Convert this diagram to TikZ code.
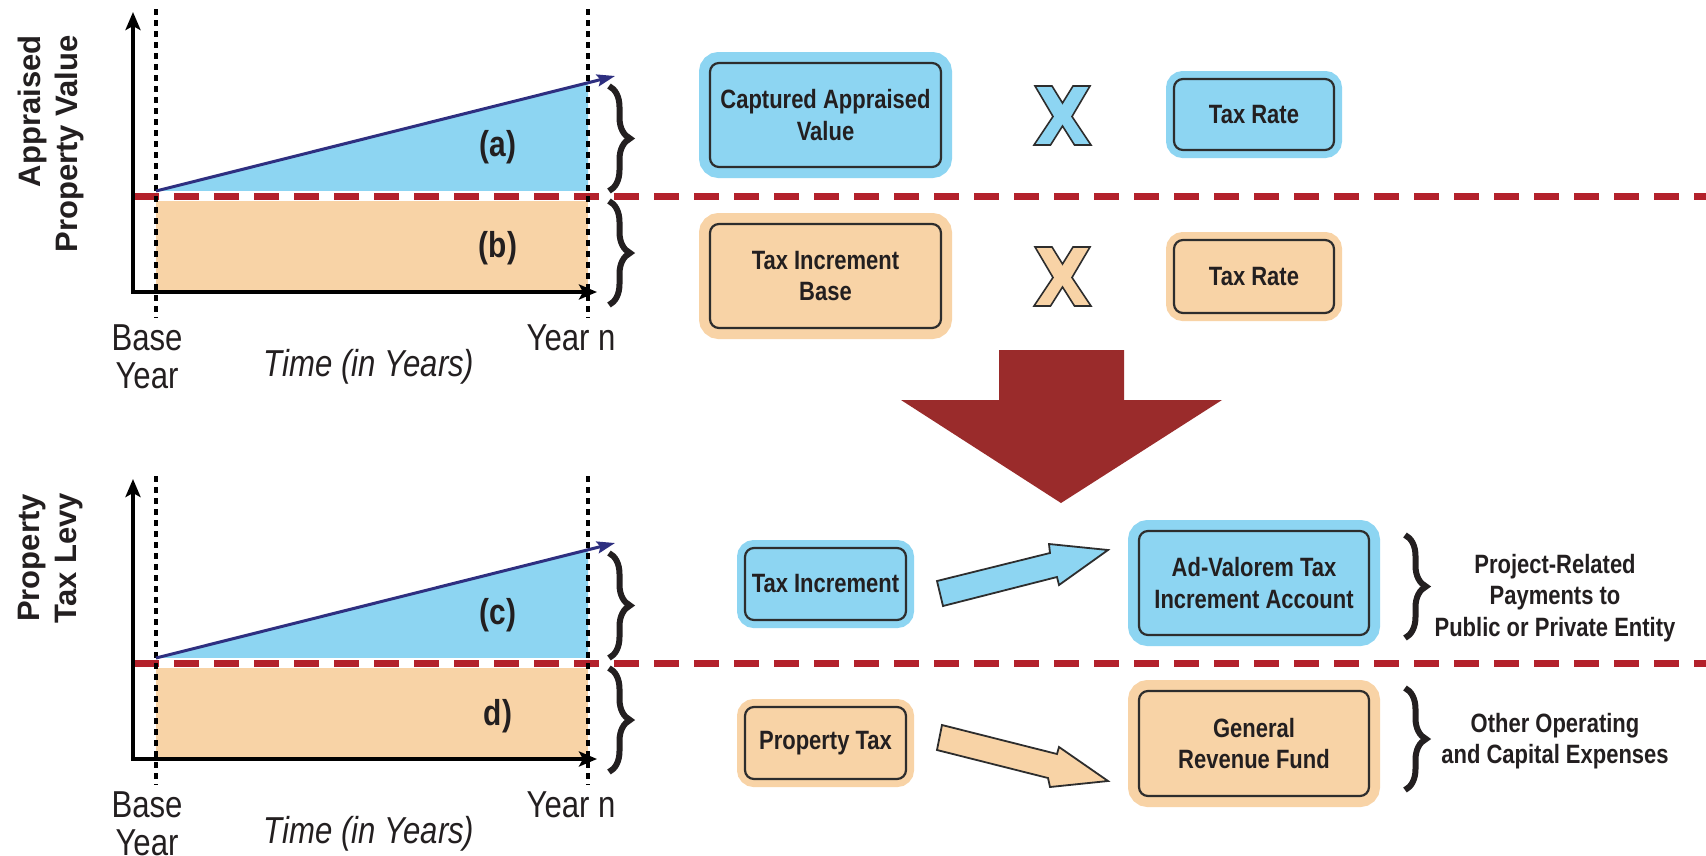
\documentclass[tikz,border=0pt]{standalone}
\usepackage{fontspec}
\setmainfont{Liberation Sans}
\newfontfamily\condf[FakeStretch=0.83]{Liberation Sans}
\usetikzlibrary{arrows.meta,decorations.pathreplacing}
\definecolor{lblue}{HTML}{8DD5F2}
\definecolor{lorange}{HTML}{F8D3A6}
\definecolor{bigred}{HTML}{9A2B2B}
\definecolor{dashred}{HTML}{B3212B}
\definecolor{navy}{HTML}{2E2F80}
\definecolor{boxline}{HTML}{2D2D2D}
\definecolor{ink}{HTML}{231F20}
\begin{document}
\begin{tikzpicture}[x=1pt,y=-1pt,
  boxtext/.style={font=\condf\bfseries\fontsize{26.5}{31.5}\selectfont, text=ink, align=center},
  tbox/.style={boxtext, draw=boxline, line width=2.2pt, rounded corners=9pt, inner sep=0pt},
  bluebox/.style={tbox, fill=lblue, preaction={draw=lblue, line width=#1}},
  bluebox/.default=22pt,
  orangebox/.style={tbox, fill=lorange, preaction={draw=lorange, line width=#1}},
  orangebox/.default=22pt,
  axlab/.style={font=\condf\fontsize{37.5}{38}\selectfont, text=ink, inner sep=0pt},
  axital/.style={font=\condf\itshape\fontsize{37.5}{38}\selectfont, text=ink, inner sep=0pt},
  arealab/.style={font=\condf\bfseries\fontsize{36}{38}\selectfont, text=ink, inner sep=0pt},
  vlab/.style={font=\bfseries\fontsize{31}{37}\selectfont, text=ink, rotate=90, inner sep=0pt},
  sidetext/.style={font=\condf\bfseries\fontsize{26.5}{31.5}\selectfont, text=ink, align=center, inner sep=0pt},
  reddash/.style={draw=dashred, line width=7pt, dash pattern=on 25pt off 15pt},
  dotv/.style={draw=black, line width=3.5pt, dash pattern=on 6pt off 5pt},
  axis/.style={draw=black, line width=4pt, {Stealth[length=18pt,width=15pt,inset=4pt]}-{Stealth[length=18pt,width=15pt,inset=4pt]}},
  growth/.style={draw=navy, line width=3pt, -{Stealth[length=18pt,width=12pt,inset=3pt]}},
  brc/.style={draw=ink, line width=6pt, decorate, decoration={brace, amplitude=21pt, aspect=0.5}},
  blockarrow/.style={draw=boxline, line width=1.8pt, line join=miter},
  xglyph/.style={draw=boxline, line width=1.6pt, line join=miter}
]
\useasboundingbox (0,0) rectangle (1706,855);
\fill[white] (0,0) rectangle (1706,855);

% ---------- top chart ----------
\fill[lblue] (156,191) -- (588,83) -- (588,196) -- (156,196) -- cycle;
\fill[lorange] (156,196) rectangle (588,292);
\draw[white, line width=10pt] (156,196) -- (588,196);
\draw[reddash] (134,196) -- (1706,196);
\draw[dotv] (156,9) -- (156,318);
\draw[dotv] (588,9) -- (588,318);
\draw[axis] (133,12) -- (133,292) -- (597,292);
\draw[growth] (156,191) -- (615,76);
\draw[brc] (609,86) -- (609,191);
\draw[brc] (609,201) -- (609,305);
\node[arealab] (la) at (498,147) {(a)};
\node[arealab] (lb) at (498,248) {(b)};
\node[vlab, align=right] (ylab1) at (51,144) {Appraised\\Property Value};
\node[axlab, anchor=base] (base1) at (147,350) {Base};
\node[axlab, anchor=base] (year1) at (147,388) {Year};
\node[axlab, anchor=base] (yn1) at (571,350) {Year n};
\node[axital, anchor=base] (time1) at (369,376) {Time (in Years)};

% ---------- bottom chart ----------
\fill[lblue] (156,658) -- (588,550) -- (588,663) -- (156,663) -- cycle;
\fill[lorange] (156,663) rectangle (588,759);
\draw[white, line width=10pt] (156,663) -- (588,663);
\draw[reddash] (134,663) -- (1706,663);
\draw[dotv] (156,476) -- (156,785);
\draw[dotv] (588,476) -- (588,785);
\draw[axis] (133,479) -- (133,759) -- (597,759);
\draw[growth] (156,658) -- (615,543);
\draw[brc] (609,553) -- (609,658);
\draw[brc] (609,668) -- (609,772);
\node[arealab] (lc) at (498,615) {(c)};
\node[arealab] (ld) at (498,716) {d)};
\node[vlab, align=center] (ylab2) at (51,558) {Property\\Tax Levy};
\node[axlab, anchor=base] (base2) at (147,817) {Base};
\node[axlab, anchor=base] (year2) at (147,855) {Year};
\node[axlab, anchor=base] (yn2) at (571,817) {Year n};
\node[axital, anchor=base] (time2) at (369,843) {Time (in Years)};

% ---------- top right boxes ----------
\node[bluebox, minimum width=231pt, minimum height=104pt] (cav) at (825.5,115) {Captured Appraised\\Value};
\node[bluebox=16pt, minimum width=160pt, minimum height=71pt] (tra) at (1254,114.5) {Tax Rate};
\node[orangebox, minimum width=231pt, minimum height=104pt] (tib) at (825.5,276) {Tax Increment\\Base};
\node[orangebox=16pt, minimum width=160pt, minimum height=73pt] (trb) at (1254,276.5) {Tax Rate};

\begin{scope}[shift={(1062.5,115.5)}]
\draw[xglyph, fill=lblue] (-27.5,-29.5) -- (-10.5,-29.5) -- (0,-12.5) -- (10.5,-29.5) -- (27.5,-29.5) -- (9.5,1) -- (28.5,29.5) -- (12,29.5) -- (0,10.5) -- (-12,29.5) -- (-28.5,29.5) -- (-9.5,1) -- cycle;
\end{scope}
\begin{scope}[shift={(1062.5,276.5)}]
\draw[xglyph, fill=lorange] (-27.5,-29.5) -- (-10.5,-29.5) -- (0,-12.5) -- (10.5,-29.5) -- (27.5,-29.5) -- (9.5,1) -- (28.5,29.5) -- (12,29.5) -- (0,10.5) -- (-12,29.5) -- (-28.5,29.5) -- (-9.5,1) -- cycle;
\end{scope}

% ---------- big arrow ----------
\fill[bigred] (999,350) -- (1124,350) -- (1124,400) -- (1222,400) -- (1061,503) -- (901,400) -- (999,400) -- cycle;

% ---------- bottom right boxes ----------
\node[bluebox=16pt, minimum width=161pt, minimum height=72pt] (ti) at (825.5,584) {Tax Increment};
\node[bluebox, minimum width=230pt, minimum height=104pt] (ava) at (1254,583) {Ad-Valorem Tax\\Increment Account};
\node[orangebox=16pt, minimum width=161pt, minimum height=72pt] (pt) at (825.5,743) {Property Tax};
\node[orangebox, minimum width=230pt, minimum height=105pt] (grf) at (1254,743.5) {General\\Revenue Fund};

\draw[blockarrow, fill=lblue] (937,581) -- (1050,553) -- (1049,544) -- (1108,550) -- (1059,585) -- (1057,577) -- (943,606) -- cycle;
\draw[blockarrow, fill=lorange] (942,725) -- (1057,754) -- (1059,747) -- (1108,781) -- (1050,787) -- (1048,778) -- (937,750) -- cycle;

\draw[brc] (1405,535) -- (1405,638);
\draw[brc] (1405,688) -- (1405,790);
\node[sidetext] (prj) at (1555,598) {Project-Related\\Payments to\\Public or Private Entity};
\node[sidetext] (oth) at (1555,741) {Other Operating\\and Capital Expenses};
\end{tikzpicture}
\end{document}
